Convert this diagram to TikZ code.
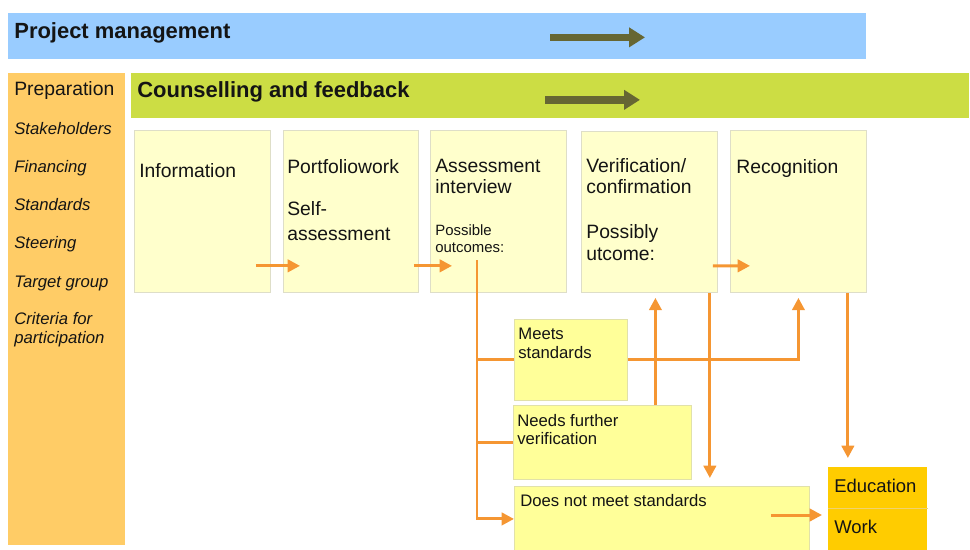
\documentclass[tikz,border=0pt]{standalone}
\usepackage{fontspec}
\setmainfont{Liberation Sans}
\usetikzlibrary{arrows.meta}
\definecolor{pmblue}{RGB}{153,204,255}
\definecolor{cfgreen}{RGB}{204,221,68}
\definecolor{prepfill}{RGB}{255,204,102}
\definecolor{stepfill}{RGB}{255,255,204}
\definecolor{stepline}{RGB}{222,222,200}
\definecolor{outfill}{RGB}{255,255,153}
\definecolor{outline}{RGB}{225,225,170}
\definecolor{edugold}{RGB}{255,204,0}
\definecolor{eduline}{RGB}{240,210,110}
\definecolor{arrorange}{RGB}{245,150,50}
\definecolor{darkolive}{RGB}{102,102,51}
\definecolor{txtgray}{RGB}{20,20,20}

\begin{document}
\begin{tikzpicture}[x=0.02cm, y=-0.02cm,
		bar/.style={anchor=north west, inner sep=0, draw=none},
		stepbox/.style={anchor=north west, inner sep=0, fill=stepfill, draw=stepline, line width=0.5pt, minimum width=2.72cm, minimum height=3.24cm},
		outbox/.style={anchor=north west, inner sep=0, fill=outfill, draw=outline, line width=0.5pt},
		mytext/.style={anchor=base west, inner sep=0, text=txtgray, font=\fontsize{11}{13}\selectfont},
		bigtext/.style={mytext, font=\fontsize{12.5}{15}\selectfont\bfseries},
		itemtext/.style={mytext, font=\fontsize{9.5}{11}\selectfont\itshape},
		smalltext/.style={mytext, font=\fontsize{8.5}{10}\selectfont},
		outtext/.style={mytext, font=\fontsize{9.5}{11}\selectfont},
		oline/.style={draw=arrorange, line width=1.7pt},
		oarrow/.style={oline, -{Triangle[length=7pt,width=7pt]}},
		bigarrow/.style={draw=darkolive, line width=0.15cm, -{Triangle[length=0.32cm,width=0.38cm]}}
	]
	\useasboundingbox (0,0) rectangle (970,549);

	% bars
	\node[bar, fill=pmblue, minimum width=17.16cm, minimum height=0.92cm] (pm) at (8,13) {};
	\node[bar, fill=prepfill, minimum width=2.34cm, minimum height=9.44cm] (prep) at (8,73) {};
	\node[bar, fill=cfgreen, minimum width=16.76cm, minimum height=0.9cm] (cf) at (131,73) {};

	\draw[bigarrow] ([shift={(542,1)}]pm.west) -- ([shift={(637,1)}]pm.west);
	\draw[bigarrow] ([shift={(414,4)}]cf.west) -- ([shift={(509,4)}]cf.west);

	\node[bigtext] (pmt) at (14,38) {Project management};
	\node[bigtext] (cft) at (137,97) {Counselling and feedback};

	% preparation column
	\node[mytext] (prept) at (14,95) {Preparation};
	\node[itemtext] (stake) at (14,134) {Stakeholders};
	\node[itemtext] (fin) at (14,172) {Financing};
	\node[itemtext] (stand) at (14,210) {Standards};
	\node[itemtext] (steer) at (14,248) {Steering};
	\node[itemtext] (target) at (14,287) {Target group};
	\node[itemtext] (crit) at (14,324) {Criteria for};
	\node[itemtext] (part) at (14,343) {participation};

	% steps
	\node[stepbox] (info) at (134,130) {};
	\node[stepbox, minimum width=2.7cm] (port) at (283,130) {};
	\node[stepbox] (assess) at (430,130) {};
	\node[stepbox, minimum height=3.22cm] (verif) at (581,131) {};
	\node[stepbox] (recog) at (730,130) {};

	\node[mytext] (infot) at (139,177) {Information};
	\node[mytext] (portt) at (287,173) {Portfoliowork};
	\node[mytext] (selft) at (287,215) {Self-};
	\node[mytext] (selft2) at (287,240) {assessment};
	\node[mytext] (assesst) at (435,172) {Assessment};
	\node[mytext] (assesst2) at (435,193) {interview};
	\node[smalltext] (posst) at (435,235) {Possible};
	\node[smalltext] (posst2) at (435,252) {outcomes:};
	\node[mytext] (verift) at (586,172) {Verification/};
	\node[mytext] (verift2) at (586,193) {confirmation};
	\node[mytext] (possy) at (586,238) {Possibly};
	\node[mytext] (possy2) at (586,260) {utcome:};
	\node[mytext] (recogt) at (736,173) {Recognition};

	% outcomes
	\node[outbox, minimum width=2.26cm, minimum height=1.62cm] (meets) at (514,319) {};
	\node[outbox, minimum width=3.56cm, minimum height=1.48cm] (needs) at (513,405) {};
	\node[outbox, minimum width=5.9cm, minimum height=1.3cm] (fail) at (514,486) {};
	\node[bar, fill=edugold, minimum width=1.98cm, minimum height=0.82cm] (edu) at (828,467) {};
	\node[bar, fill=edugold, minimum width=1.98cm, minimum height=0.84cm] (work) at (828,508) {};
	\draw[eduline, line width=0.6pt] (edu.south west) -- (edu.south east);

	\node[outtext] (meetst) at (518,339) {Meets};
	\node[outtext] (meetst2) at (518,358) {standards};
	\node[outtext] (needst) at (517,426) {Needs further};
	\node[outtext] (needst2) at (517,444) {verification};
	\node[outtext] (failt) at (520,506) {Does not meet standards};
	\node[mytext, font=\fontsize{10.5}{12}\selectfont] (edut) at (834,492) {Education};
	\node[mytext, font=\fontsize{10.5}{12}\selectfont] (workt) at (834,533) {Work};

	% arrows
	\draw[oarrow] ([shift={(-15,-27)}]info.south east) -- ([shift={(17,-27)}]port.south west);
	\draw[oarrow] ([shift={(-5,-27)}]port.south east) -- ([shift={(22,-27)}]assess.south west);
	\draw[oarrow] ([shift={(-5,-27)}]verif.south east) -- ([shift={(20,-27)}]recog.south west);

	\coordinate (split) at ([shift={(47,130)}]assess.north west);
	\draw[oline] (split) |- (meets.west);
	\draw[oline] (split) |- (needs.west);
	\draw[oarrow] (split) |- (fail.west);

	\draw[oarrow, shorten >=0.1cm] (meets.east) -| (recog.south);
	\draw[oarrow, shorten >=0.1cm] ([xshift=1.06cm]needs.north) -- ([xshift=1.06cm]needs.north |- verif.south);
	\draw[oarrow, shorten >=0.16cm] ([xshift=-0.16cm]verif.south east) -- ([xshift=-0.16cm]verif.south east |- fail.north);
	\draw[oarrow, shorten >=0.18cm] ([xshift=-0.38cm]recog.south east) -- ([xshift=-0.38cm]recog.south east |- edu.north);
	\coordinate (failout) at ([shift={(-39,29)}]fail.north east);
	\draw[oarrow, shorten >=0.12cm] (failout) -- (failout -| edu.west);
\end{tikzpicture}
\end{document}
